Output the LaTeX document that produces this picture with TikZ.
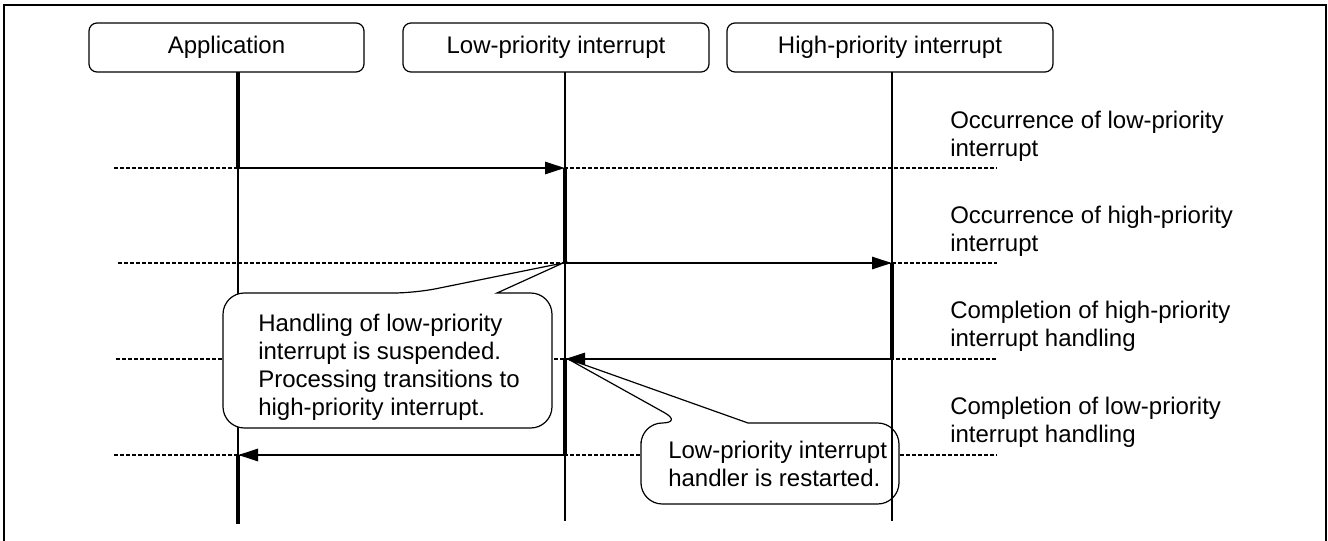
\documentclass[tikz,border=0pt]{standalone}
\usepackage{fontspec}
\setmainfont{Liberation Sans}
\usetikzlibrary{arrows.meta}
\begin{document}
\begin{tikzpicture}[x=0.75pt,y=-0.75pt,
  every node/.style={font=\fontsize{18}{21}\selectfont, inner sep=0pt},
  hdr/.style={draw, rounded corners=6pt, line width=0.9pt, minimum height=36.75pt},
  life/.style={line width=0.9pt},
  active/.style={line width=2.7pt},
  msg/.style={line width=2.1pt, -{Triangle[length=15pt,width=9pt]}},
  guide/.style={line width=1pt, dash pattern=on 3pt off 1.5pt},
  bubble/.style={draw, fill=white, line width=0.9pt},
  lbl/.style={anchor=west, align=left},
  frame/.style={line width=1.8pt}
]
\useasboundingbox (0,0) rectangle (1328,541);
% frame (bottom edge lies outside the picture)
\coordinate (fa) at (4,548);
\coordinate (fb) at (4,5);
\coordinate (fc) at (1326,5);
\coordinate (fd) at (1326,548);
\draw[frame] (fa) -- (fb) -- (fc) -- (fd);

% headers
\node[hdr, minimum width=206.25pt] (app) at (226.5,47.5) {Application};
\node[hdr, minimum width=229.5pt] (low) at (556,47.5) {Low-priority interrupt};
\node[hdr, minimum width=244.5pt] (high) at (890,47.5) {High-priority interrupt};

% lifeline points
\coordinate (a0) at (238,72);
\coordinate (a1) at (238,168);
\coordinate (a4) at (238,455);
\coordinate (aE) at (238,524);
\coordinate (l0) at (565,72);
\coordinate (l1) at (565,168);
\coordinate (l2) at (565,263);
\coordinate (l3) at (565,359);
\coordinate (l4) at (565,455);
\coordinate (lE) at (565,521);
\coordinate (h0) at (892,72);
\coordinate (h2) at (892,263);
\coordinate (h3) at (892,359);
\coordinate (hE) at (892,521);

% guide lines
\coordinate (g1a) at (114,168); \coordinate (g1b) at (997,168);
\coordinate (g2a) at (118,263); \coordinate (g2b) at (997,263);
\coordinate (g3a) at (116,359); \coordinate (g3b) at (997,359);
\coordinate (g4a) at (114,455); \coordinate (g4b) at (997,455);
\draw[guide] (g1a) -- (g1b);
\draw[guide] (g2a) -- (g2b);
\draw[guide] (g3a) -- (g3b);
\draw[guide] (g4a) -- (g4b);

% thin lifelines
\draw[life] (a0) -- (aE);
\draw[life] (l0) -- (lE);

% activations
\draw[active] (a0) -- (a1);
\draw[active] (a4) -- (aE);
\draw[active] (l1) -- (l2);
\draw[active] (l3) -- (l4);
\draw[active] (h2) -- (h3);

% messages
\draw[msg] (a1) -- (l1);
\draw[msg] (l2) -- (h2);
\draw[msg] (h3) -- (l3);
\draw[msg] (l4) -- (a4);

% callout 1
\coordinate (p1) at (563,263);
\draw[bubble] (223,360) [rounded corners=16pt] -- (223,293) -- (415,293)
  [sharp corners] -- (p1) -- (497,293)
  [rounded corners=16pt] -- (552,293) -- (552,428) -- (223,428) -- cycle;
\node[lbl] (c1t) at (258,367) {Handling of low-priority\\interrupt is suspended.\\Processing transitions to\\high-priority interrupt.};

% callout 2
\coordinate (p2) at (568,359);
\draw[bubble] (641,463) [rounded corners=16pt] -- (641,423) -- (683,423)
  [sharp corners] -- (p2) -- (748,423)
  [rounded corners=16pt] -- (899,423) -- (899,504) -- (641,504) -- cycle;
\node[lbl] (c2t) at (668,463.5) {Low-priority interrupt\\handler is restarted.};

% high-priority lifeline (drawn over callout 2)
\draw[life] (h0) -- (h2);
\draw[life] (h3) -- (hE);

% labels
\node[lbl] (t1) at (950,136) {Occurrence of low-priority\\interrupt};
\node[lbl] (t2) at (950,231.5) {Occurrence of high-priority\\interrupt};
\node[lbl] (t3) at (950,326) {Completion of high-priority\\interrupt handling};
\node[lbl] (t4) at (950,422) {Completion of low-priority\\interrupt handling};
\end{tikzpicture}
\end{document}
